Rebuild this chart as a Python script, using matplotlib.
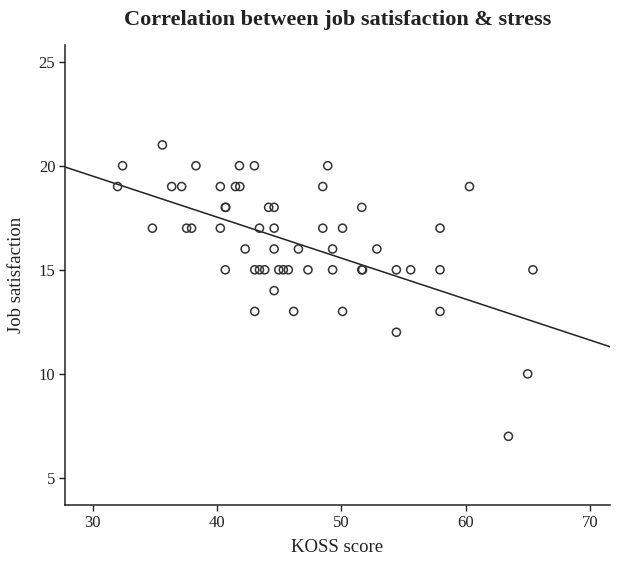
import numpy as np
import matplotlib
matplotlib.use("Agg")
import matplotlib.pyplot as plt

plt.rcParams['font.family'] = ['Liberation Serif', 'DejaVu Serif']

# KOSS score (x) and job satisfaction (y)
koss = [35.6,
        32.4, 38.3, 41.8, 43.0, 48.9,
        32.0, 36.35, 37.15, 40.26, 41.48, 41.83, 48.5, 60.3,
        40.66, 40.7, 44.15, 44.59, 51.64,
        34.8, 37.55, 37.95, 40.26, 43.41, 44.59, 48.5, 50.09, 57.93,
        42.26, 44.59, 46.54, 49.29, 52.85,
        40.66, 43.03, 43.41, 43.83, 44.96, 45.33, 45.73, 47.31, 49.29,
        51.64, 51.7, 54.42, 55.57, 57.93, 65.4,
        44.59,
        43.03, 46.16, 50.09, 57.93,
        54.42,
        64.98,
        63.43]
satisfaction = [21,
                20, 20, 20, 20, 20,
                19, 19, 19, 19, 19, 19, 19, 19,
                18, 18, 18, 18, 18,
                17, 17, 17, 17, 17, 17, 17, 17, 17,
                16, 16, 16, 16, 16,
                15, 15, 15, 15, 15, 15, 15, 15, 15,
                15, 15, 15, 15, 15, 15,
                14,
                13, 13, 13, 13,
                12,
                10,
                7]

# fit line
fit_intercept = 25.41
fit_slope = -0.197

x_ticks = [30, 40, 50, 60, 70]
y_ticks = [5, 10, 15, 20, 25]
x_limits = [27.77, 71.6]
y_limits = [3.7, 25.8]

fig = plt.figure(figsize=(6.2, 5.64), dpi=100)
ax = fig.add_axes([65/620, 1-505/564, 545/620, 460/564])

ax.scatter(koss, satisfaction, s=34, facecolors='none', edgecolors='#333333',
           linewidths=1.1, zorder=3)
xl = np.array(x_limits)
ax.plot(xl, fit_intercept + fit_slope * xl, color='#222222', lw=1.1, zorder=2)

ax.set_xlim(x_limits)
ax.set_ylim(y_limits)
ax.set_xticks(x_ticks)
ax.set_yticks(y_ticks)
for s in ['top', 'right']:
    ax.spines[s].set_visible(False)
for s in ['left', 'bottom']:
    ax.spines[s].set_color('#222222')
    ax.spines[s].set_linewidth(1.1)
ax.tick_params(direction='out', length=4, width=1, colors='#222222',
               labelsize=12, pad=3, labelcolor='#222222')

ax.set_xlabel('KOSS score', fontsize=13.5, color='#222222', labelpad=6)
ax.set_ylabel('Job satisfaction', fontsize=13.5, color='#222222', labelpad=10)
fig.text(0.545, 0.982, 'Correlation between job satisfaction & stress',
         ha='center', va='top', fontsize=16, fontweight='bold', color='#222222')

fig.savefig('out.png', dpi=100)
